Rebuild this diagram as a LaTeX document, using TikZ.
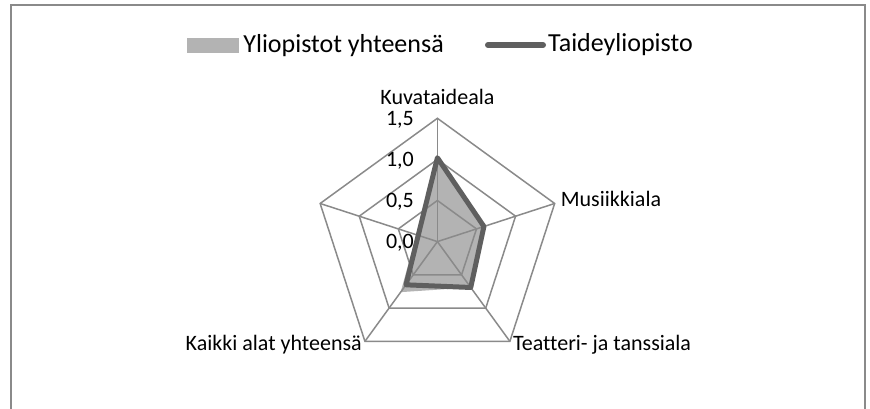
\documentclass[tikz,border=0pt]{standalone}
\usepackage{fontspec}
\setmainfont{Carlito}[Ligatures=NoCommon]
\usetikzlibrary{positioning}
\definecolor{webgray}{HTML}{8A8A8A}
\definecolor{yogray}{HTML}{B3B3B3}
\definecolor{tygray}{HTML}{5F5F5F}
\newcommand{\lblfont}{\fontsize{22}{26}\selectfont}
\newcommand{\legfont}{\fontsize{26}{31}\selectfont}
\tikzset{x=1pt, y=1pt,
    frame/.style={draw=webgray, line width=2pt},
    webline/.style={draw=webgray, line width=1.5pt},
    yofill/.style={fill=yogray},
    tyline/.style={draw=tygray, line width=5pt, line join=round},
    axislabel/.style={inner sep=0pt, font=\lblfont},
    legendtext/.style={inner sep=0pt, font=\legfont},
    legendbox/.style={fill=yogray, minimum width=52pt, minimum height=14.5pt, inner sep=0pt}}

\begin{document}
\begin{tikzpicture}
    \useasboundingbox (0,0) rectangle (870,409);
    \draw[frame] (11,-20) rectangle (864.8,404);
    % legend
    \node[legendbox] (boxYo) at (213,363.5) {};
    \node[legendtext, right=4pt of boxYo] (yo) {Yliopistot yhteensä};
    \coordinate (tyA) at (488,364);
    \coordinate (tyB) at (543,364);
    \draw[tyline, line width=6pt, line cap=round] (tyA) -- (tyB);
    \node[legendtext, right=5pt of tyB] (ty) {Taideyliopisto};
    % radar
    \begin{scope}[shift={(437.4,167.4)}]
        \def\u{82.2}
        \coordinate (o) at (0,0);
        \foreach \a/\n in {90/kuva, 18/musa, -54/teat, -126/kaikki, 162/tyhja}
            \coordinate (\n) at (\a:{1.5*\u});
        \fill[yofill] (90:{1.02*\u}) -- (18:{0.595*\u}) -- (-54:{0.69*\u}) -- (-126:{0.76*\u}) -- cycle;
        \foreach \r in {0.5, 1.0, 1.5}
            \draw[webline] (90:{\r*\u}) -- (18:{\r*\u}) -- (-54:{\r*\u}) -- (-126:{\r*\u}) -- (162:{\r*\u}) -- cycle;
        \foreach \n in {kuva, musa, teat, kaikki, tyhja}
            \draw[webline] (o) -- (\n);
        \draw[tyline] (90:{1.02*\u}) -- (18:{0.595*\u}) -- (-54:{0.69*\u}) -- (-126:{0.65*\u}) -- cycle;
        \foreach \v/\t in {0/{0,0}, 0.5/{0,5}, 1.0/{1,0}, 1.5/{1,5}}
            \node[axislabel, anchor=base east] at (-23.4,{\v*\u-7}) {\t};
        \node[axislabel, above=13pt of kuva] (kuvaL) {Kuvataideala};
        \node[axislabel, right=6pt of musa, anchor=base west, yshift=-3.3pt] (musaL) {Musiikkiala};
        \node[axislabel, right=3pt of teat, anchor=base west, yshift=-9pt] (teatL) {Teatteri- ja tanssiala};
        \node[axislabel, left=3pt of kaikki, anchor=base east, yshift=-9pt] (kaikkiL) {Kaikki alat yhteensä};
    \end{scope}
\end{tikzpicture}
\end{document}
